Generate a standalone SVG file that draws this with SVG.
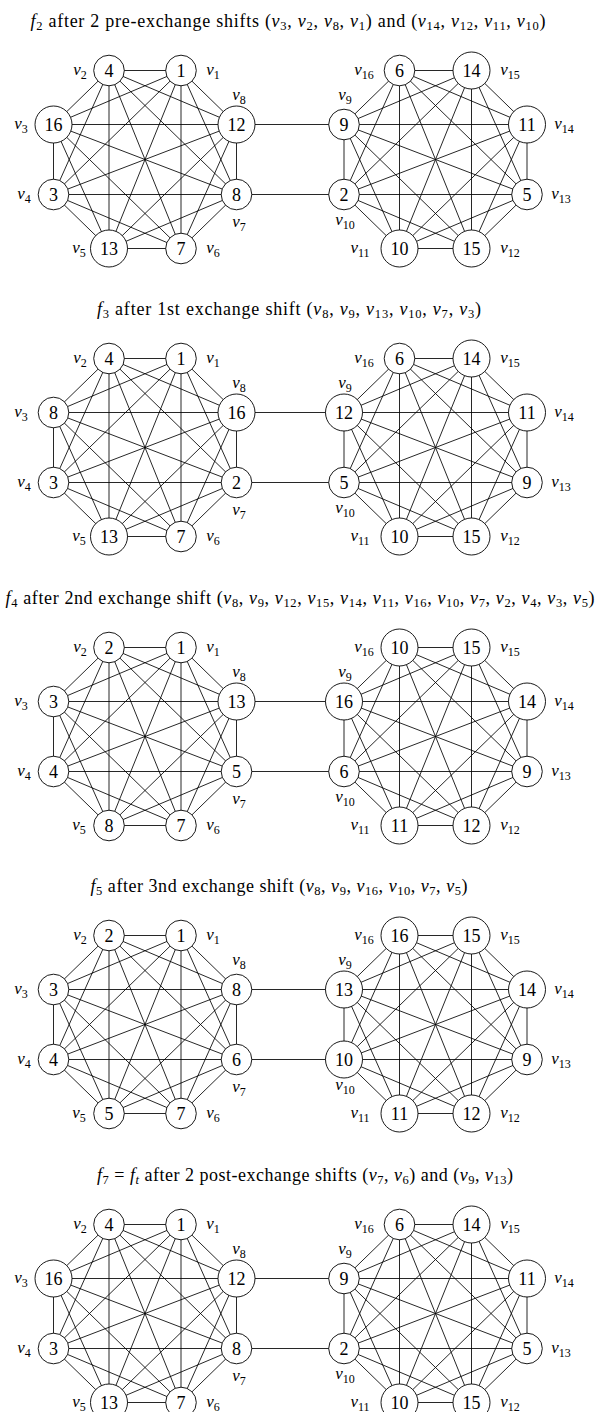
<svg xmlns="http://www.w3.org/2000/svg" xmlns:xlink="http://www.w3.org/1999/xlink" width="598" height="1412" viewBox="0 0 598 1412">
<style>
.ed{fill:none;stroke:#000;stroke-width:0.85}
.br{stroke:#000;stroke-width:0.85}
.nd circle{fill:#fff;stroke:#000;stroke-width:0.9}
.nt{font-family:'Liberation Serif','DejaVu Serif',serif;font-size:18px;text-anchor:middle;fill:#000}
.lb{font-family:'Liberation Serif','DejaVu Serif',serif;font-size:17px;text-anchor:middle;fill:#000}
.ti{font-family:'Liberation Serif','DejaVu Serif',serif;font-size:18px;text-anchor:middle;fill:#000}
.i{font-style:italic}
.sb{font-size:12px}
.ti .sb{font-size:12.5px}
</style>
<defs>
<path id="k8" class="ed" d="M-36 -89L36 -89M-36 -89L91.5 -35M-36 -89L91.5 35M-36 -89L36 89M-36 -89L-36 89M-36 -89L-91.5 35M-36 -89L-91.5 -35M36 -89L91.5 -35M36 -89L91.5 35M36 -89L36 89M36 -89L-36 89M36 -89L-91.5 35M36 -89L-91.5 -35M91.5 -35L91.5 35M91.5 -35L36 89M91.5 -35L-36 89M91.5 -35L-91.5 35M91.5 -35L-91.5 -35M91.5 35L36 89M91.5 35L-36 89M91.5 35L-91.5 35M91.5 35L-91.5 -35M36 89L-36 89M36 89L-91.5 35M36 89L-91.5 -35M-36 89L-91.5 35M-36 89L-91.5 -35M-91.5 35L-91.5 -35"/>
</defs>

<!-- Panel 1 -->
<g id="panel1">
<text class="ti" x="288" y="27" textLength="515" lengthAdjust="spacing"><tspan class="i">f</tspan><tspan class="sb" dy="3">2</tspan><tspan dy="-3"> after 2 pre-exchange shifts (</tspan><tspan class="i">v</tspan><tspan class="sb" dy="3">3</tspan><tspan dy="-3">, </tspan><tspan class="i">v</tspan><tspan class="sb" dy="3">2</tspan><tspan dy="-3">, </tspan><tspan class="i">v</tspan><tspan class="sb" dy="3">8</tspan><tspan dy="-3">, </tspan><tspan class="i">v</tspan><tspan class="sb" dy="3">1</tspan><tspan dy="-3">) and (</tspan><tspan class="i">v</tspan><tspan class="sb" dy="3">14</tspan><tspan dy="-3">, </tspan><tspan class="i">v</tspan><tspan class="sb" dy="3">12</tspan><tspan dy="-3">, </tspan><tspan class="i">v</tspan><tspan class="sb" dy="3">11</tspan><tspan dy="-3">, </tspan><tspan class="i">v</tspan><tspan class="sb" dy="3">10</tspan><tspan dy="-3">)</tspan></text>
<g id="p1-connectors">
<use href="#k8" xlink:href="#k8" transform="translate(145,159.5)"/>
<use href="#k8" xlink:href="#k8" transform="translate(435.5,159.5)"/>
<line class="br" x1="236.5" y1="124.5" x2="344" y2="124.5"/>
<line class="br" x1="236.5" y1="194.5" x2="344" y2="194.5"/>
</g>
<g id="p1-v1" class="nd"><circle cx="181" cy="70.5" r="15.3"/><text class="nt" x="181" y="76.5">1</text><text class="lb" x="213" y="75"><tspan class="i">v</tspan><tspan class="sb" dy="3.5">1</tspan></text></g>
<g id="p1-v2" class="nd"><circle cx="109" cy="70.5" r="15.3"/><text class="nt" x="109" y="76.5">4</text><text class="lb" x="80" y="75"><tspan class="i">v</tspan><tspan class="sb" dy="3.5">2</tspan></text></g>
<g id="p1-v3" class="nd"><circle cx="53.5" cy="124.5" r="18.5"/><text class="nt" x="53.5" y="130.5">16</text><text class="lb" x="21" y="129"><tspan class="i">v</tspan><tspan class="sb" dy="3.5">3</tspan></text></g>
<g id="p1-v4" class="nd"><circle cx="53.5" cy="194.5" r="15.3"/><text class="nt" x="53.5" y="200.5">3</text><text class="lb" x="24" y="199"><tspan class="i">v</tspan><tspan class="sb" dy="3.5">4</tspan></text></g>
<g id="p1-v5" class="nd"><circle cx="109" cy="248.5" r="18.5"/><text class="nt" x="109" y="254.5">13</text><text class="lb" x="79" y="253"><tspan class="i">v</tspan><tspan class="sb" dy="3.5">5</tspan></text></g>
<g id="p1-v6" class="nd"><circle cx="181" cy="248.5" r="15.3"/><text class="nt" x="181" y="254.5">7</text><text class="lb" x="213" y="253"><tspan class="i">v</tspan><tspan class="sb" dy="3.5">6</tspan></text></g>
<g id="p1-v7" class="nd"><circle cx="236.5" cy="194.5" r="15.3"/><text class="nt" x="236.5" y="200.5">8</text><text class="lb" x="239" y="227"><tspan class="i">v</tspan><tspan class="sb" dy="3.5">7</tspan></text></g>
<g id="p1-v8" class="nd"><circle cx="236.5" cy="124.5" r="18.5"/><text class="nt" x="236.5" y="130.5">12</text><text class="lb" x="239" y="100"><tspan class="i">v</tspan><tspan class="sb" dy="3.5">8</tspan></text></g>
<g id="p1-v9" class="nd"><circle cx="344" cy="124.5" r="15.3"/><text class="nt" x="344" y="130.5">9</text><text class="lb" x="345" y="100"><tspan class="i">v</tspan><tspan class="sb" dy="3.5">9</tspan></text></g>
<g id="p1-v10" class="nd"><circle cx="344" cy="194.5" r="15.3"/><text class="nt" x="344" y="200.5">2</text><text class="lb" x="345" y="225"><tspan class="i">v</tspan><tspan class="sb" dy="3.5">10</tspan></text></g>
<g id="p1-v11" class="nd"><circle cx="399.5" cy="248.5" r="18.5"/><text class="nt" x="399.5" y="254.5">10</text><text class="lb" x="360" y="253"><tspan class="i">v</tspan><tspan class="sb" dy="3.5">11</tspan></text></g>
<g id="p1-v12" class="nd"><circle cx="471.5" cy="248.5" r="18.5"/><text class="nt" x="471.5" y="254.5">15</text><text class="lb" x="510" y="253"><tspan class="i">v</tspan><tspan class="sb" dy="3.5">12</tspan></text></g>
<g id="p1-v13" class="nd"><circle cx="527" cy="194.5" r="15.3"/><text class="nt" x="527" y="200.5">5</text><text class="lb" x="561" y="199"><tspan class="i">v</tspan><tspan class="sb" dy="3.5">13</tspan></text></g>
<g id="p1-v14" class="nd"><circle cx="527" cy="124.5" r="18.5"/><text class="nt" x="527" y="130.5">11</text><text class="lb" x="564" y="129"><tspan class="i">v</tspan><tspan class="sb" dy="3.5">14</tspan></text></g>
<g id="p1-v15" class="nd"><circle cx="471.5" cy="70.5" r="18.5"/><text class="nt" x="471.5" y="76.5">14</text><text class="lb" x="510" y="75"><tspan class="i">v</tspan><tspan class="sb" dy="3.5">15</tspan></text></g>
<g id="p1-v16" class="nd"><circle cx="399.5" cy="70.5" r="15.3"/><text class="nt" x="399.5" y="76.5">6</text><text class="lb" x="364" y="75"><tspan class="i">v</tspan><tspan class="sb" dy="3.5">16</tspan></text></g>
</g>

<!-- Panel 2 -->
<g id="panel2" transform="translate(0,288)">
<text class="ti" x="289" y="27" textLength="384" lengthAdjust="spacing"><tspan class="i">f</tspan><tspan class="sb" dy="3">3</tspan><tspan dy="-3"> after 1st exchange shift (</tspan><tspan class="i">v</tspan><tspan class="sb" dy="3">8</tspan><tspan dy="-3">, </tspan><tspan class="i">v</tspan><tspan class="sb" dy="3">9</tspan><tspan dy="-3">, </tspan><tspan class="i">v</tspan><tspan class="sb" dy="3">13</tspan><tspan dy="-3">, </tspan><tspan class="i">v</tspan><tspan class="sb" dy="3">10</tspan><tspan dy="-3">, </tspan><tspan class="i">v</tspan><tspan class="sb" dy="3">7</tspan><tspan dy="-3">, </tspan><tspan class="i">v</tspan><tspan class="sb" dy="3">3</tspan><tspan dy="-3">)</tspan></text>
<g id="p2-connectors">
<use href="#k8" xlink:href="#k8" transform="translate(145,159.5)"/>
<use href="#k8" xlink:href="#k8" transform="translate(435.5,159.5)"/>
<line class="br" x1="236.5" y1="124.5" x2="344" y2="124.5"/>
<line class="br" x1="236.5" y1="194.5" x2="344" y2="194.5"/>
</g>
<g id="p2-v1" class="nd"><circle cx="181" cy="70.5" r="15.3"/><text class="nt" x="181" y="76.5">1</text><text class="lb" x="213" y="75"><tspan class="i">v</tspan><tspan class="sb" dy="3.5">1</tspan></text></g>
<g id="p2-v2" class="nd"><circle cx="109" cy="70.5" r="15.3"/><text class="nt" x="109" y="76.5">4</text><text class="lb" x="80" y="75"><tspan class="i">v</tspan><tspan class="sb" dy="3.5">2</tspan></text></g>
<g id="p2-v3" class="nd"><circle cx="53.5" cy="124.5" r="15.3"/><text class="nt" x="53.5" y="130.5">8</text><text class="lb" x="21" y="129"><tspan class="i">v</tspan><tspan class="sb" dy="3.5">3</tspan></text></g>
<g id="p2-v4" class="nd"><circle cx="53.5" cy="194.5" r="15.3"/><text class="nt" x="53.5" y="200.5">3</text><text class="lb" x="24" y="199"><tspan class="i">v</tspan><tspan class="sb" dy="3.5">4</tspan></text></g>
<g id="p2-v5" class="nd"><circle cx="109" cy="248.5" r="18.5"/><text class="nt" x="109" y="254.5">13</text><text class="lb" x="79" y="253"><tspan class="i">v</tspan><tspan class="sb" dy="3.5">5</tspan></text></g>
<g id="p2-v6" class="nd"><circle cx="181" cy="248.5" r="15.3"/><text class="nt" x="181" y="254.5">7</text><text class="lb" x="213" y="253"><tspan class="i">v</tspan><tspan class="sb" dy="3.5">6</tspan></text></g>
<g id="p2-v7" class="nd"><circle cx="236.5" cy="194.5" r="15.3"/><text class="nt" x="236.5" y="200.5">2</text><text class="lb" x="239" y="227"><tspan class="i">v</tspan><tspan class="sb" dy="3.5">7</tspan></text></g>
<g id="p2-v8" class="nd"><circle cx="236.5" cy="124.5" r="18.5"/><text class="nt" x="236.5" y="130.5">16</text><text class="lb" x="239" y="100"><tspan class="i">v</tspan><tspan class="sb" dy="3.5">8</tspan></text></g>
<g id="p2-v9" class="nd"><circle cx="344" cy="124.5" r="18.5"/><text class="nt" x="344" y="130.5">12</text><text class="lb" x="345" y="100"><tspan class="i">v</tspan><tspan class="sb" dy="3.5">9</tspan></text></g>
<g id="p2-v10" class="nd"><circle cx="344" cy="194.5" r="15.3"/><text class="nt" x="344" y="200.5">5</text><text class="lb" x="345" y="225"><tspan class="i">v</tspan><tspan class="sb" dy="3.5">10</tspan></text></g>
<g id="p2-v11" class="nd"><circle cx="399.5" cy="248.5" r="18.5"/><text class="nt" x="399.5" y="254.5">10</text><text class="lb" x="360" y="253"><tspan class="i">v</tspan><tspan class="sb" dy="3.5">11</tspan></text></g>
<g id="p2-v12" class="nd"><circle cx="471.5" cy="248.5" r="18.5"/><text class="nt" x="471.5" y="254.5">15</text><text class="lb" x="510" y="253"><tspan class="i">v</tspan><tspan class="sb" dy="3.5">12</tspan></text></g>
<g id="p2-v13" class="nd"><circle cx="527" cy="194.5" r="15.3"/><text class="nt" x="527" y="200.5">9</text><text class="lb" x="561" y="199"><tspan class="i">v</tspan><tspan class="sb" dy="3.5">13</tspan></text></g>
<g id="p2-v14" class="nd"><circle cx="527" cy="124.5" r="18.5"/><text class="nt" x="527" y="130.5">11</text><text class="lb" x="564" y="129"><tspan class="i">v</tspan><tspan class="sb" dy="3.5">14</tspan></text></g>
<g id="p2-v15" class="nd"><circle cx="471.5" cy="70.5" r="18.5"/><text class="nt" x="471.5" y="76.5">14</text><text class="lb" x="510" y="75"><tspan class="i">v</tspan><tspan class="sb" dy="3.5">15</tspan></text></g>
<g id="p2-v16" class="nd"><circle cx="399.5" cy="70.5" r="15.3"/><text class="nt" x="399.5" y="76.5">6</text><text class="lb" x="364" y="75"><tspan class="i">v</tspan><tspan class="sb" dy="3.5">16</tspan></text></g>
</g>

<!-- Panel 3 -->
<g id="panel3" transform="translate(0,577)">
<text class="ti" x="300" y="27" textLength="589" lengthAdjust="spacing"><tspan class="i">f</tspan><tspan class="sb" dy="3">4</tspan><tspan dy="-3"> after 2nd exchange shift (</tspan><tspan class="i">v</tspan><tspan class="sb" dy="3">8</tspan><tspan dy="-3">, </tspan><tspan class="i">v</tspan><tspan class="sb" dy="3">9</tspan><tspan dy="-3">, </tspan><tspan class="i">v</tspan><tspan class="sb" dy="3">12</tspan><tspan dy="-3">, </tspan><tspan class="i">v</tspan><tspan class="sb" dy="3">15</tspan><tspan dy="-3">, </tspan><tspan class="i">v</tspan><tspan class="sb" dy="3">14</tspan><tspan dy="-3">, </tspan><tspan class="i">v</tspan><tspan class="sb" dy="3">11</tspan><tspan dy="-3">, </tspan><tspan class="i">v</tspan><tspan class="sb" dy="3">16</tspan><tspan dy="-3">, </tspan><tspan class="i">v</tspan><tspan class="sb" dy="3">10</tspan><tspan dy="-3">, </tspan><tspan class="i">v</tspan><tspan class="sb" dy="3">7</tspan><tspan dy="-3">, </tspan><tspan class="i">v</tspan><tspan class="sb" dy="3">2</tspan><tspan dy="-3">, </tspan><tspan class="i">v</tspan><tspan class="sb" dy="3">4</tspan><tspan dy="-3">, </tspan><tspan class="i">v</tspan><tspan class="sb" dy="3">3</tspan><tspan dy="-3">, </tspan><tspan class="i">v</tspan><tspan class="sb" dy="3">5</tspan><tspan dy="-3">)</tspan></text>
<g id="p3-connectors">
<use href="#k8" xlink:href="#k8" transform="translate(145,159.5)"/>
<use href="#k8" xlink:href="#k8" transform="translate(435.5,159.5)"/>
<line class="br" x1="236.5" y1="124.5" x2="344" y2="124.5"/>
<line class="br" x1="236.5" y1="194.5" x2="344" y2="194.5"/>
</g>
<g id="p3-v1" class="nd"><circle cx="181" cy="70.5" r="15.3"/><text class="nt" x="181" y="76.5">1</text><text class="lb" x="213" y="75"><tspan class="i">v</tspan><tspan class="sb" dy="3.5">1</tspan></text></g>
<g id="p3-v2" class="nd"><circle cx="109" cy="70.5" r="15.3"/><text class="nt" x="109" y="76.5">2</text><text class="lb" x="80" y="75"><tspan class="i">v</tspan><tspan class="sb" dy="3.5">2</tspan></text></g>
<g id="p3-v3" class="nd"><circle cx="53.5" cy="124.5" r="15.3"/><text class="nt" x="53.5" y="130.5">3</text><text class="lb" x="21" y="129"><tspan class="i">v</tspan><tspan class="sb" dy="3.5">3</tspan></text></g>
<g id="p3-v4" class="nd"><circle cx="53.5" cy="194.5" r="15.3"/><text class="nt" x="53.5" y="200.5">4</text><text class="lb" x="24" y="199"><tspan class="i">v</tspan><tspan class="sb" dy="3.5">4</tspan></text></g>
<g id="p3-v5" class="nd"><circle cx="109" cy="248.5" r="15.3"/><text class="nt" x="109" y="254.5">8</text><text class="lb" x="79" y="253"><tspan class="i">v</tspan><tspan class="sb" dy="3.5">5</tspan></text></g>
<g id="p3-v6" class="nd"><circle cx="181" cy="248.5" r="15.3"/><text class="nt" x="181" y="254.5">7</text><text class="lb" x="213" y="253"><tspan class="i">v</tspan><tspan class="sb" dy="3.5">6</tspan></text></g>
<g id="p3-v7" class="nd"><circle cx="236.5" cy="194.5" r="15.3"/><text class="nt" x="236.5" y="200.5">5</text><text class="lb" x="239" y="227"><tspan class="i">v</tspan><tspan class="sb" dy="3.5">7</tspan></text></g>
<g id="p3-v8" class="nd"><circle cx="236.5" cy="124.5" r="18.5"/><text class="nt" x="236.5" y="130.5">13</text><text class="lb" x="239" y="100"><tspan class="i">v</tspan><tspan class="sb" dy="3.5">8</tspan></text></g>
<g id="p3-v9" class="nd"><circle cx="344" cy="124.5" r="18.5"/><text class="nt" x="344" y="130.5">16</text><text class="lb" x="345" y="100"><tspan class="i">v</tspan><tspan class="sb" dy="3.5">9</tspan></text></g>
<g id="p3-v10" class="nd"><circle cx="344" cy="194.5" r="15.3"/><text class="nt" x="344" y="200.5">6</text><text class="lb" x="345" y="225"><tspan class="i">v</tspan><tspan class="sb" dy="3.5">10</tspan></text></g>
<g id="p3-v11" class="nd"><circle cx="399.5" cy="248.5" r="18.5"/><text class="nt" x="399.5" y="254.5">11</text><text class="lb" x="360" y="253"><tspan class="i">v</tspan><tspan class="sb" dy="3.5">11</tspan></text></g>
<g id="p3-v12" class="nd"><circle cx="471.5" cy="248.5" r="18.5"/><text class="nt" x="471.5" y="254.5">12</text><text class="lb" x="510" y="253"><tspan class="i">v</tspan><tspan class="sb" dy="3.5">12</tspan></text></g>
<g id="p3-v13" class="nd"><circle cx="527" cy="194.5" r="15.3"/><text class="nt" x="527" y="200.5">9</text><text class="lb" x="561" y="199"><tspan class="i">v</tspan><tspan class="sb" dy="3.5">13</tspan></text></g>
<g id="p3-v14" class="nd"><circle cx="527" cy="124.5" r="18.5"/><text class="nt" x="527" y="130.5">14</text><text class="lb" x="564" y="129"><tspan class="i">v</tspan><tspan class="sb" dy="3.5">14</tspan></text></g>
<g id="p3-v15" class="nd"><circle cx="471.5" cy="70.5" r="18.5"/><text class="nt" x="471.5" y="76.5">15</text><text class="lb" x="510" y="75"><tspan class="i">v</tspan><tspan class="sb" dy="3.5">15</tspan></text></g>
<g id="p3-v16" class="nd"><circle cx="399.5" cy="70.5" r="18.5"/><text class="nt" x="399.5" y="76.5">10</text><text class="lb" x="364" y="75"><tspan class="i">v</tspan><tspan class="sb" dy="3.5">16</tspan></text></g>
</g>

<!-- Panel 4 -->
<g id="panel4" transform="translate(0,865)">
<text class="ti" x="279" y="27" textLength="377" lengthAdjust="spacing"><tspan class="i">f</tspan><tspan class="sb" dy="3">5</tspan><tspan dy="-3"> after 3nd exchange shift (</tspan><tspan class="i">v</tspan><tspan class="sb" dy="3">8</tspan><tspan dy="-3">, </tspan><tspan class="i">v</tspan><tspan class="sb" dy="3">9</tspan><tspan dy="-3">, </tspan><tspan class="i">v</tspan><tspan class="sb" dy="3">16</tspan><tspan dy="-3">, </tspan><tspan class="i">v</tspan><tspan class="sb" dy="3">10</tspan><tspan dy="-3">, </tspan><tspan class="i">v</tspan><tspan class="sb" dy="3">7</tspan><tspan dy="-3">, </tspan><tspan class="i">v</tspan><tspan class="sb" dy="3">5</tspan><tspan dy="-3">)</tspan></text>
<g id="p4-connectors">
<use href="#k8" xlink:href="#k8" transform="translate(145,159.5)"/>
<use href="#k8" xlink:href="#k8" transform="translate(435.5,159.5)"/>
<line class="br" x1="236.5" y1="124.5" x2="344" y2="124.5"/>
<line class="br" x1="236.5" y1="194.5" x2="344" y2="194.5"/>
</g>
<g id="p4-v1" class="nd"><circle cx="181" cy="70.5" r="15.3"/><text class="nt" x="181" y="76.5">1</text><text class="lb" x="213" y="75"><tspan class="i">v</tspan><tspan class="sb" dy="3.5">1</tspan></text></g>
<g id="p4-v2" class="nd"><circle cx="109" cy="70.5" r="15.3"/><text class="nt" x="109" y="76.5">2</text><text class="lb" x="80" y="75"><tspan class="i">v</tspan><tspan class="sb" dy="3.5">2</tspan></text></g>
<g id="p4-v3" class="nd"><circle cx="53.5" cy="124.5" r="15.3"/><text class="nt" x="53.5" y="130.5">3</text><text class="lb" x="21" y="129"><tspan class="i">v</tspan><tspan class="sb" dy="3.5">3</tspan></text></g>
<g id="p4-v4" class="nd"><circle cx="53.5" cy="194.5" r="15.3"/><text class="nt" x="53.5" y="200.5">4</text><text class="lb" x="24" y="199"><tspan class="i">v</tspan><tspan class="sb" dy="3.5">4</tspan></text></g>
<g id="p4-v5" class="nd"><circle cx="109" cy="248.5" r="15.3"/><text class="nt" x="109" y="254.5">5</text><text class="lb" x="79" y="253"><tspan class="i">v</tspan><tspan class="sb" dy="3.5">5</tspan></text></g>
<g id="p4-v6" class="nd"><circle cx="181" cy="248.5" r="15.3"/><text class="nt" x="181" y="254.5">7</text><text class="lb" x="213" y="253"><tspan class="i">v</tspan><tspan class="sb" dy="3.5">6</tspan></text></g>
<g id="p4-v7" class="nd"><circle cx="236.5" cy="194.5" r="15.3"/><text class="nt" x="236.5" y="200.5">6</text><text class="lb" x="239" y="227"><tspan class="i">v</tspan><tspan class="sb" dy="3.5">7</tspan></text></g>
<g id="p4-v8" class="nd"><circle cx="236.5" cy="124.5" r="15.3"/><text class="nt" x="236.5" y="130.5">8</text><text class="lb" x="239" y="100"><tspan class="i">v</tspan><tspan class="sb" dy="3.5">8</tspan></text></g>
<g id="p4-v9" class="nd"><circle cx="344" cy="124.5" r="18.5"/><text class="nt" x="344" y="130.5">13</text><text class="lb" x="345" y="100"><tspan class="i">v</tspan><tspan class="sb" dy="3.5">9</tspan></text></g>
<g id="p4-v10" class="nd"><circle cx="344" cy="194.5" r="18.5"/><text class="nt" x="344" y="200.5">10</text><text class="lb" x="345" y="225"><tspan class="i">v</tspan><tspan class="sb" dy="3.5">10</tspan></text></g>
<g id="p4-v11" class="nd"><circle cx="399.5" cy="248.5" r="18.5"/><text class="nt" x="399.5" y="254.5">11</text><text class="lb" x="360" y="253"><tspan class="i">v</tspan><tspan class="sb" dy="3.5">11</tspan></text></g>
<g id="p4-v12" class="nd"><circle cx="471.5" cy="248.5" r="18.5"/><text class="nt" x="471.5" y="254.5">12</text><text class="lb" x="510" y="253"><tspan class="i">v</tspan><tspan class="sb" dy="3.5">12</tspan></text></g>
<g id="p4-v13" class="nd"><circle cx="527" cy="194.5" r="15.3"/><text class="nt" x="527" y="200.5">9</text><text class="lb" x="561" y="199"><tspan class="i">v</tspan><tspan class="sb" dy="3.5">13</tspan></text></g>
<g id="p4-v14" class="nd"><circle cx="527" cy="124.5" r="18.5"/><text class="nt" x="527" y="130.5">14</text><text class="lb" x="564" y="129"><tspan class="i">v</tspan><tspan class="sb" dy="3.5">14</tspan></text></g>
<g id="p4-v15" class="nd"><circle cx="471.5" cy="70.5" r="18.5"/><text class="nt" x="471.5" y="76.5">15</text><text class="lb" x="510" y="75"><tspan class="i">v</tspan><tspan class="sb" dy="3.5">15</tspan></text></g>
<g id="p4-v16" class="nd"><circle cx="399.5" cy="70.5" r="18.5"/><text class="nt" x="399.5" y="76.5">16</text><text class="lb" x="364" y="75"><tspan class="i">v</tspan><tspan class="sb" dy="3.5">16</tspan></text></g>
</g>

<!-- Panel 5 -->
<g id="panel5" transform="translate(0,1154)">
<text class="ti" x="305" y="27" textLength="416" lengthAdjust="spacing"><tspan class="i">f</tspan><tspan class="sb" dy="3">7</tspan><tspan dy="-3"> = </tspan><tspan class="i">f</tspan><tspan class="sb i" dy="3">t</tspan><tspan dy="-3"> after 2 post-exchange shifts (</tspan><tspan class="i">v</tspan><tspan class="sb" dy="3">7</tspan><tspan dy="-3">, </tspan><tspan class="i">v</tspan><tspan class="sb" dy="3">6</tspan><tspan dy="-3">) and (</tspan><tspan class="i">v</tspan><tspan class="sb" dy="3">9</tspan><tspan dy="-3">, </tspan><tspan class="i">v</tspan><tspan class="sb" dy="3">13</tspan><tspan dy="-3">)</tspan></text>
<g id="p5-connectors">
<use href="#k8" xlink:href="#k8" transform="translate(145,159.5)"/>
<use href="#k8" xlink:href="#k8" transform="translate(435.5,159.5)"/>
<line class="br" x1="236.5" y1="124.5" x2="344" y2="124.5"/>
<line class="br" x1="236.5" y1="194.5" x2="344" y2="194.5"/>
</g>
<g id="p5-v1" class="nd"><circle cx="181" cy="70.5" r="15.3"/><text class="nt" x="181" y="76.5">1</text><text class="lb" x="213" y="75"><tspan class="i">v</tspan><tspan class="sb" dy="3.5">1</tspan></text></g>
<g id="p5-v2" class="nd"><circle cx="109" cy="70.5" r="15.3"/><text class="nt" x="109" y="76.5">4</text><text class="lb" x="80" y="75"><tspan class="i">v</tspan><tspan class="sb" dy="3.5">2</tspan></text></g>
<g id="p5-v3" class="nd"><circle cx="53.5" cy="124.5" r="18.5"/><text class="nt" x="53.5" y="130.5">16</text><text class="lb" x="21" y="129"><tspan class="i">v</tspan><tspan class="sb" dy="3.5">3</tspan></text></g>
<g id="p5-v4" class="nd"><circle cx="53.5" cy="194.5" r="15.3"/><text class="nt" x="53.5" y="200.5">3</text><text class="lb" x="24" y="199"><tspan class="i">v</tspan><tspan class="sb" dy="3.5">4</tspan></text></g>
<g id="p5-v5" class="nd"><circle cx="109" cy="248.5" r="18.5"/><text class="nt" x="109" y="254.5">13</text><text class="lb" x="79" y="253"><tspan class="i">v</tspan><tspan class="sb" dy="3.5">5</tspan></text></g>
<g id="p5-v6" class="nd"><circle cx="181" cy="248.5" r="15.3"/><text class="nt" x="181" y="254.5">7</text><text class="lb" x="213" y="253"><tspan class="i">v</tspan><tspan class="sb" dy="3.5">6</tspan></text></g>
<g id="p5-v7" class="nd"><circle cx="236.5" cy="194.5" r="15.3"/><text class="nt" x="236.5" y="200.5">8</text><text class="lb" x="239" y="227"><tspan class="i">v</tspan><tspan class="sb" dy="3.5">7</tspan></text></g>
<g id="p5-v8" class="nd"><circle cx="236.5" cy="124.5" r="18.5"/><text class="nt" x="236.5" y="130.5">12</text><text class="lb" x="239" y="100"><tspan class="i">v</tspan><tspan class="sb" dy="3.5">8</tspan></text></g>
<g id="p5-v9" class="nd"><circle cx="344" cy="124.5" r="15.3"/><text class="nt" x="344" y="130.5">9</text><text class="lb" x="345" y="100"><tspan class="i">v</tspan><tspan class="sb" dy="3.5">9</tspan></text></g>
<g id="p5-v10" class="nd"><circle cx="344" cy="194.5" r="15.3"/><text class="nt" x="344" y="200.5">2</text><text class="lb" x="345" y="225"><tspan class="i">v</tspan><tspan class="sb" dy="3.5">10</tspan></text></g>
<g id="p5-v11" class="nd"><circle cx="399.5" cy="248.5" r="18.5"/><text class="nt" x="399.5" y="254.5">10</text><text class="lb" x="360" y="253"><tspan class="i">v</tspan><tspan class="sb" dy="3.5">11</tspan></text></g>
<g id="p5-v12" class="nd"><circle cx="471.5" cy="248.5" r="18.5"/><text class="nt" x="471.5" y="254.5">15</text><text class="lb" x="510" y="253"><tspan class="i">v</tspan><tspan class="sb" dy="3.5">12</tspan></text></g>
<g id="p5-v13" class="nd"><circle cx="527" cy="194.5" r="15.3"/><text class="nt" x="527" y="200.5">5</text><text class="lb" x="561" y="199"><tspan class="i">v</tspan><tspan class="sb" dy="3.5">13</tspan></text></g>
<g id="p5-v14" class="nd"><circle cx="527" cy="124.5" r="18.5"/><text class="nt" x="527" y="130.5">11</text><text class="lb" x="564" y="129"><tspan class="i">v</tspan><tspan class="sb" dy="3.5">14</tspan></text></g>
<g id="p5-v15" class="nd"><circle cx="471.5" cy="70.5" r="18.5"/><text class="nt" x="471.5" y="76.5">14</text><text class="lb" x="510" y="75"><tspan class="i">v</tspan><tspan class="sb" dy="3.5">15</tspan></text></g>
<g id="p5-v16" class="nd"><circle cx="399.5" cy="70.5" r="15.3"/><text class="nt" x="399.5" y="76.5">6</text><text class="lb" x="364" y="75"><tspan class="i">v</tspan><tspan class="sb" dy="3.5">16</tspan></text></g>
</g>
</svg>
